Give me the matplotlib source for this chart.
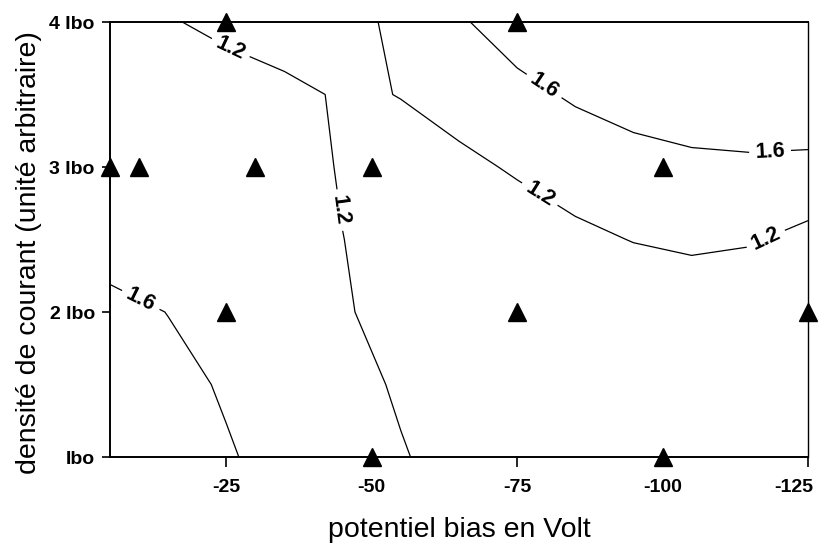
import matplotlib as mpl
mpl.use('Agg')
import matplotlib.pyplot as plt
import matplotlib.transforms as mtransforms
import numpy as np

plt.rcParams['font.family'] = ['Liberation Sans', 'DejaVu Sans']
plt.rcParams['axes.unicode_minus'] = False

# measured points (bias volts, current density in Ibo units)
pts_x = [-5, -10, -30, -50, -100, -25, -75, -25, -75, -125, -50, -100]
pts_y = [3, 3, 3, 3, 3, 4, 4, 2, 2, 2, 1, 1]

# gridded response
grid_x = [-5, -15, -25, -35, -45, -55, -65, -75, -85, -95, -105, -115, -125]
grid_y = [1, 1.5, 2, 2.5, 3, 3.5, 4]
z_y1 = [1.90, 1.76, 1.63, 1.49, 1.36, 1.22, 1.10, 1.00, 0.95, 0.95, 0.95, 0.95, 0.95]
z_y15 = [1.83, 1.70, 1.565, 1.43, 1.30, 1.165, 1.05, 0.97, 0.94, 0.93, 0.93, 0.93, 0.93]
z_y2 = [1.715, 1.593, 1.47, 1.348, 1.226, 1.103, 1.00, 0.93, 0.92, 0.94, 0.99, 0.921, 0.95]
z_y25 = [1.412, 1.38, 1.34, 1.29, 1.203, 1.10, 1.05, 1.00, 1.117, 1.212, 1.259, 1.231, 1.094]
z_y3 = [1.40, 1.38, 1.36, 1.325, 1.178, 1.10, 1.11, 1.243, 1.377, 1.475, 1.528, 1.538, 1.502]
z_y35 = [1.40, 1.38, 1.34, 1.30, 1.157, 1.207, 1.363, 1.504, 1.645, 1.738, 1.796, 1.846, 1.91]
z_y4 = [1.30, 1.223, 1.128, 0.985, 1.05, 1.296, 1.56, 1.766, 1.85, 1.90, 1.95, 2.00, 2.10]
levels = [1.2, 1.6]

xticks = [-25, -50, -75, -100, -125]
xticklabels = ['-25', '-50', '-75', '-100', '-125']
yticks = [1, 2, 3, 4]
yticklabels = ['Ibo', '2 Ibo', '3 Ibo', '4 Ibo']

Z = np.array([z_y1, z_y15, z_y2, z_y25, z_y3, z_y35, z_y4])
X, Y = np.meshgrid(grid_x, grid_y)

fig = plt.figure(figsize=(8.23, 5.46), dpi=100)
ax = fig.add_axes([0.1337, 0.163, 0.848, 0.7967])
# limits first so the label angles follow the inverted x axis
ax.set_xlim(-5, -125)
ax.set_ylim(1, 4)

cs = ax.contour(X, Y, Z, levels=levels, colors='black', linewidths=0.9)
lab_pos = [(-25.5, 3.8), (-44.0, 2.7), (-10.5, 2.1),
           (-79, 2.82), (-118, 2.48), (-79.5, 3.55), (-118.5, 3.1)]
labels = ax.clabel(cs, fmt='%.1f', fontsize=15.5, manual=lab_pos, inline=True, inline_spacing=6)
for t in labels:
    t.set_fontweight('bold')

ax.plot(pts_x, pts_y, '^', color='black', markersize=13, clip_on=False, zorder=5)

ax.set_xticks(xticks)
ax.set_xticklabels(xticklabels, fontsize=14, fontweight='bold')
ax.set_yticks(yticks)
ax.set_yticklabels(yticklabels, fontsize=14, fontweight='bold')
ax.tick_params(axis='x', direction='out', length=7, width=1.2, pad=9)
ax.tick_params(axis='y', direction='out', length=6, width=1.2, pad=5)

# last x label sits just inside the figure edge
last = ax.get_xticklabels()[-1]
last.set_transform(last.get_transform() + mtransforms.ScaledTranslation(-10 / 72, 0, fig.dpi_scale_trans))

for s in ['left', 'bottom', 'top']:
    ax.spines[s].set_linewidth(1.4)
ax.spines['right'].set_linewidth(1.0)

ax.set_xlabel('potentiel bias en Volt', fontsize=20.5)
ax.set_ylabel('densité de courant (unité arbitraire)', fontsize=20.5)
ax.xaxis.set_label_coords(0.501, -0.138)
ax.yaxis.set_label_coords(-0.097, 0.47)

plt.savefig('out.png', dpi=100)
